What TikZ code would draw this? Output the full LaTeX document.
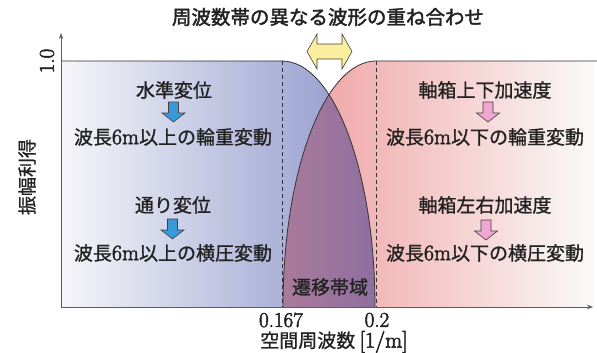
\documentclass[tikz,border=0pt]{standalone}
\usepackage{fontspec}
\newfontfamily\cjk{Noto Sans CJK JP}[FakeBold=1]
\newfontfamily\cjkb{Noto Sans CJK JP}[FakeBold=2]
\newfontfamily\numf{Latin Modern Roman}[FakeBold=2.5]
\newcommand\latn[1]{{\fontsize{22}{22}\selectfont\numf #1}}
\usetikzlibrary{arrows.meta}
\definecolor{txt}{HTML}{222222}
\definecolor{lc}{HTML}{333333}
\definecolor{bluL}{HTML}{F6F6F9}
\definecolor{bluR}{HTML}{8C95CA}
\definecolor{pnkL}{HTML}{EF9C9C}
\definecolor{pnkM}{HTML}{F3C0C0}
\definecolor{pnkR}{HTML}{FAFAFA}
\definecolor{purL}{HTML}{A97A9A}
\definecolor{purR}{HTML}{8E6FA0}
\definecolor{arrB}{HTML}{3A9AD9}
\definecolor{arrP}{HTML}{F0A6D2}
\definecolor{arrY}{HTML}{FBEE9E}
\definecolor{arrL}{HTML}{404040}
\begin{document}
\begin{tikzpicture}[x=1pt,y=-1pt,
  every node/.style={inner sep=0pt, text=txt},
  lbl/.style={font=\fontsize{19}{21}\selectfont\cjk},
  num/.style={font=\fontsize{21}{21}\selectfont\numf},
  curve/.style={draw=lc, line width=0.8pt},
  divider/.style={draw=lc, line width=0.8pt, dash pattern=on 4pt off 3pt},
  axis/.style={draw=lc!80, line width=1pt, -{Stealth[length=6pt,width=4.5pt]}},
  pics/downarr/.style={code={
    \draw[fill=#1, draw=arrL, line width=0.6pt]
      (-5,0) -- (5,0) -- (5,11) -- (11.5,11) -- (0,20) -- (-11.5,11) -- (-5,11) -- cycle;}}
]
\useasboundingbox (0,0) rectangle (597,353);

% blue band (low frequencies)
\path[left color=bluL, right color=bluR]
  (61,61) -- (282,61) .. controls (333.4,61) and (375,171.1) .. (375,307) -- (61,307) -- cycle;
% pink band (high frequencies)
\path[left color=pnkL, middle color=pnkM, right color=pnkR]
  (283,307) .. controls (283,171.1) and (324.6,61) .. (376,61) -- (595,61) -- (595,307) -- cycle;
% overlap
\begin{scope}
  \clip (61,61) -- (282,61) .. controls (333.4,61) and (375,171.1) .. (375,307) -- (61,307) -- cycle;
  \clip (283,307) .. controls (283,171.1) and (324.6,61) .. (376,61) -- (595,61) -- (595,307) -- cycle;
  \path[left color=purL, right color=purR] (283,80) rectangle (375,307);
\end{scope}

% outlines
\draw[curve] (61,61) -- (282,61) .. controls (333.4,61) and (375,171.1) .. (375,307);
\draw[curve] (283,307) .. controls (283,171.1) and (324.6,61) .. (376,61) -- (597,61);
\draw[divider] (282,61) -- (282,307);
\draw[divider] (376,61) -- (376,307);

% axes
\coordinate (o) at (61,307);
\coordinate (ytop) at (61,33);
\coordinate (xend) at (593,307);
\draw[axis] (o) -- (ytop);
\draw[axis] (o) -- (xend);

% title and double arrow
\node[font=\fontsize{19.5}{21}\selectfont\cjkb] (title) at (328,17) {周波数帯の異なる波形の重ね合わせ};
\draw[fill=arrY, draw=arrL, line width=0.6pt]
  (307,51.5) -- (317,34) -- (317,44) -- (342,44) -- (342,34) -- (352,51.5)
  -- (342,69) -- (342,59) -- (317,59) -- (317,69) -- cycle;

% axis labels
\node[num, rotate=90] (one) at (47,61) {1.0};
\node[lbl, rotate=90] (ylab) at (27,177) {振幅利得};
\node[num] (f1) at (281,320) {0.167};
\node[num] (f2) at (377,320) {0.2};
\node[lbl] (xlab) at (334,342) {空間周波数 \latn{[1/m]}};

% left texts
\node[lbl] (l1) at (174,90) {水準変位};
\pic at (173.5,102) {downarr=arrB};
\node[lbl] (l2) at (173,137) {波長\latn{6m}以上の輪重変動};
\node[lbl] (l3) at (173,205) {通り変位};
\pic at (172.5,219) {downarr=arrB};
\node[lbl] (l4) at (173,253) {波長\latn{6m}以上の横圧変動};

% right texts
\node[lbl] (r1) at (485,90) {軸箱上下加速度};
\pic at (488,102) {downarr=arrP};
\node[lbl] (r2) at (485,137) {波長\latn{6m}以下の輪重変動};
\node[lbl] (r3) at (485,205) {軸箱左右加速度};
\pic at (486,220) {downarr=arrP};
\node[lbl] (r4) at (485,253) {波長\latn{6m}以下の横圧変動};

% transition band
\node[lbl] (tb) at (330,287) {遷移帯域};
\end{tikzpicture}
\end{document}
